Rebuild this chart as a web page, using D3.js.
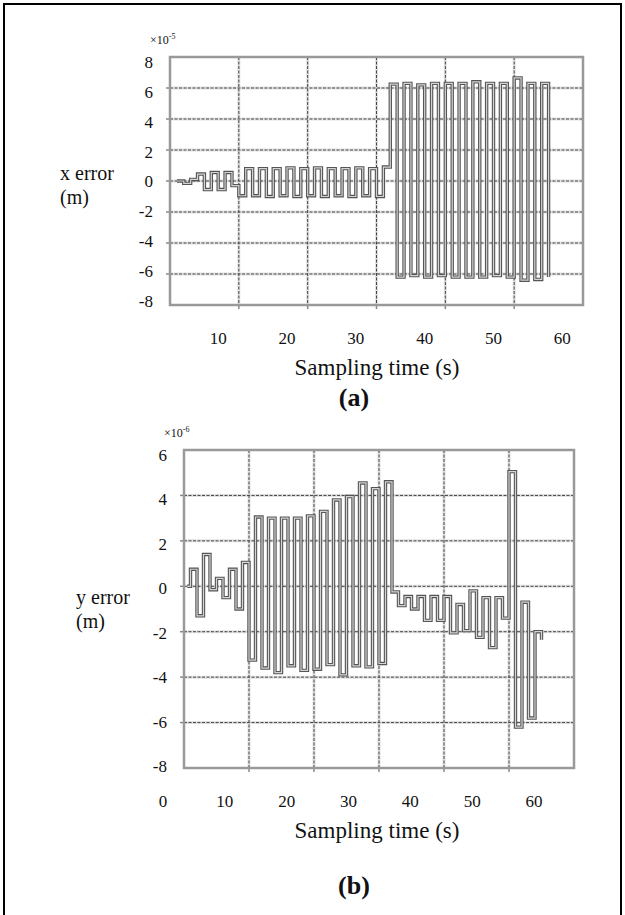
<!DOCTYPE html>
<html>
<head>
<meta charset="utf-8">
<script src="https://cdn.jsdelivr.net/npm/d3@7"></script>
<style>
body { margin: 0; background: #fff; }
</style>
</head>
<body>
<div id="chart"></div>
<script>
var width = 625;
var height = 915;
var serif = "'Liberation Serif', 'DejaVu Serif', serif";

// (a) x error, units of 1e-5 m, one value per sampling second (step)
var xErrTime = [4, 5, 6, 7, 8, 9, 10, 11, 12, 13, 14, 15, 16, 17, 18, 19, 20, 21, 22, 23,
    24, 25, 26, 27, 28, 29, 30, 31, 32, 33, 34, 35, 36, 37, 38, 39, 40, 41, 42, 43,
    44, 45, 46, 47, 48, 49, 50, 51, 52, 53, 54, 55, 56, 57, 58];
var xErrValue = [0, -0.15, 0.1, 0.45, -0.55, 0.55, -0.55, 0.55, -0.3, -0.95, 0.8, -0.95, 0.8, -1.0, 0.8, -0.95, 0.85, -1.0, 0.8, -0.95,
    0.85, -1.0, 0.8, -0.95, 0.8, -1.0, 0.85, -0.95, 0.8, -1.0, 0.9, 6.25, -6.2, 6.3, -6.1, 6.2, -6.2, 6.3, -6.1, 6.3,
    -6.2, 6.3, -6.2, 6.4, -6.2, 6.3, -6.1, 6.3, -6.2, 6.65, -6.4, 6.3, -6.35, 6.3, -6.2];

// (b) y error, units of 1e-6 m
var yErrTime = [3.5, 4, 5, 6, 7, 8, 9, 10, 11, 12, 13, 14, 15, 16, 17, 18, 19, 20, 21, 22,
    23, 24, 25, 26, 27, 28, 29, 30, 31, 32, 33, 34, 35, 36, 37, 38, 39, 40, 41, 42,
    43, 44, 45, 46, 47, 48, 49, 50, 51, 52, 53, 54, 55, 56, 57, 58];
var yErrValue = [0, 0.75, -1.3, 1.4, -0.15, 0.35, -0.5, 0.75, -1.0, 1.05, -3.25, 3.05, -3.6, 3.0, -3.8, 3.0, -3.5, 3.0, -3.7, 3.1,
    -3.65, 3.3, -3.45, 3.8, -3.9, 3.95, -3.5, 4.55, -3.55, 4.3, -3.4, 4.6, -0.25, -0.85, -0.45, -1.0, -0.45, -1.5, -0.45, -1.5,
    -0.45, -2.05, -0.8, -1.95, -0.2, -2.25, -0.5, -2.7, -0.5, -1.4, 5.05, -6.2, -0.7, -5.8, -2.0, -2.35];

var xLabelsA = [10, 20, 30, 40, 50, 60];
var yLabelsA = [8, 6, 4, 2, 0, -2, -4, -6, -8];
var xGridA = [13, 23, 33, 43, 53];

var xLabelsB = [0, 10, 20, 30, 40, 50, 60];
var yLabelsB = [6, 4, 2, 0, -2, -4, -6, -8];
var xGridB = [13, 23, 33, 43, 53];

var svg = d3.select("#chart").append("svg")
    .attr("width", width)
    .attr("height", height)
    .style("font-family", serif);

svg.append("rect")
    .attr("width", width).attr("height", height)
    .attr("fill", "#fff");

// outer frame
svg.append("rect")
    .attr("x", 4).attr("y", 4)
    .attr("width", 617).attr("height", 920)
    .attr("fill", "none")
    .attr("stroke", "#000")
    .attr("stroke-width", 2);

var panels = [
    {
        left: 170, right: 583, top: 57, bottom: 305,
        xDomain: [3, 63], yDomain: [-8, 8],
        xGrid: xGridA, xLabels: xLabelsA, yLabels: yLabelsA,
        labelRange: null, yLabelRange: [301, 62],
        times: xErrTime, values: xErrValue,
        exponent: "-5", yName: "x error", titleX: 60, titleY: 180,
        caption: "(a)"
    },
    {
        left: 184, right: 574, top: 450, bottom: 768,
        xDomain: [3, 63], yDomain: [-8, 6],
        xGrid: xGridB, xLabels: xLabelsB, yLabels: yLabelsB,
        labelRange: [163, 534], yLabelRange: [766, 455],
        times: yErrTime, values: yErrValue,
        exponent: "-6", yName: "y error", titleX: 76, titleY: 604,
        caption: "(b)"
    }
];

panels.forEach(drawPanel);

function drawPanel(p) {
    var x = d3.scaleLinear().domain(p.xDomain).range([p.left, p.right]);
    var y = d3.scaleLinear().domain(p.yDomain).range([p.bottom, p.top]);
    // tick labels are not placed exactly on the grid lines in the original
    var xl = p.labelRange ? d3.scaleLinear().domain([0, 60]).range(p.labelRange) : x;
    var yl = d3.scaleLinear().domain(p.yDomain).range(p.yLabelRange);

    var g = svg.append("g");

    var hGrid = p.yLabels.filter(function (v) { return v > p.yDomain[0] && v < p.yDomain[1]; });

    // grid: light smear under dark dotted line
    g.selectAll(".hs").data(hGrid).enter().append("line")
        .attr("x1", p.left).attr("x2", p.right)
        .attr("y1", function (d) { return y(d); }).attr("y2", function (d) { return y(d); })
        .attr("stroke", "#e2e2e2").attr("stroke-width", 3);
    g.selectAll(".vs").data(p.xGrid).enter().append("line")
        .attr("y1", p.top).attr("y2", p.bottom)
        .attr("x1", function (d) { return x(d); }).attr("x2", function (d) { return x(d); })
        .attr("stroke", "#e2e2e2").attr("stroke-width", 3);
    g.selectAll(".hg").data(hGrid).enter().append("line")
        .attr("x1", p.left).attr("x2", p.right)
        .attr("y1", function (d) { return y(d); }).attr("y2", function (d) { return y(d); })
        .attr("stroke", "#444").attr("stroke-width", 1)
        .attr("stroke-dasharray", "3,1.5");
    g.selectAll(".vg").data(p.xGrid).enter().append("line")
        .attr("y1", p.top).attr("y2", p.bottom)
        .attr("x1", function (d) { return x(d); }).attr("x2", function (d) { return x(d); })
        .attr("stroke", "#444").attr("stroke-width", 1)
        .attr("stroke-dasharray", "3,1.5");

    // small tick marks outside the frame
    g.selectAll(".yt").data(hGrid).enter().append("line")
        .attr("x1", p.left - 4).attr("x2", p.left)
        .attr("y1", function (d) { return y(d); }).attr("y2", function (d) { return y(d); })
        .attr("stroke", "#888").attr("stroke-width", 1.5);
    g.selectAll(".xt").data(p.xGrid).enter().append("line")
        .attr("y1", p.bottom).attr("y2", p.bottom + 4)
        .attr("x1", function (d) { return x(d); }).attr("x2", function (d) { return x(d); })
        .attr("stroke", "#888").attr("stroke-width", 1.5);

    // plot frame
    g.append("rect")
        .attr("x", p.left).attr("y", p.top)
        .attr("width", p.right - p.left).attr("height", p.bottom - p.top)
        .attr("fill", "none")
        .attr("stroke", "#999").attr("stroke-width", 2.5);

    // the trace: dark outline with a pale core, as in the scan
    var line = d3.line()
        .x(function (d, i) { return x(p.times[i]); })
        .y(function (d) { return y(d); })
        .curve(d3.curveStepAfter);
    g.append("path").datum(p.values)
        .attr("d", line)
        .attr("fill", "none")
        .attr("stroke", "#555").attr("stroke-width", 3.4);
    g.append("path").datum(p.values)
        .attr("d", line)
        .attr("fill", "none")
        .attr("stroke", "#d4d4d4").attr("stroke-width", 1.2);

    // y tick labels
    g.selectAll(".yl").data(p.yLabels).enter().append("text")
        .attr("x", p.left - 17)
        .attr("y", function (d) { return yl(d); })
        .attr("dy", "0.35em")
        .attr("text-anchor", "end")
        .attr("font-family", serif)
        .attr("font-size", 17)
        .attr("fill", "#111")
        .text(function (d) { return d; });

    // x tick labels
    g.selectAll(".xl").data(p.xLabels).enter().append("text")
        .attr("x", function (d) { return xl(d); })
        .attr("y", p.bottom + 33)
        .attr("dy", "0.35em")
        .attr("text-anchor", "middle")
        .attr("font-family", serif)
        .attr("font-size", 17)
        .attr("fill", "#111")
        .text(function (d) { return d; });

    // multiplier
    var m = g.append("text")
        .attr("x", p.left - 20)
        .attr("y", p.top - 13)
        .attr("font-family", serif)
        .attr("font-size", 12)
        .attr("fill", "#111");
    m.append("tspan").text("\u00d710");
    m.append("tspan").attr("dy", -5).attr("font-size", 8).text(p.exponent);

    // axis titles
    g.append("text")
        .attr("x", p.titleX).attr("y", p.titleY)
        .attr("font-family", serif)
        .attr("font-size", 20)
        .attr("fill", "#111")
        .text(p.yName);
    g.append("text")
        .attr("x", p.titleX).attr("y", p.titleY + 24)
        .attr("font-family", serif)
        .attr("font-size", 20)
        .attr("fill", "#111")
        .text("(m)");

    g.append("text")
        .attr("x", 377).attr("y", p.bottom + 70)
        .attr("text-anchor", "middle")
        .attr("font-family", serif)
        .attr("font-size", 23)
        .attr("fill", "#111")
        .text("Sampling time (s)");

    g.append("text")
        .attr("x", 354).attr("y", p.bottom + (p.caption === "(a)" ? 101 : 126))
        .attr("text-anchor", "middle")
        .attr("font-family", serif)
        .attr("font-size", 26)
        .attr("font-weight", "bold")
        .attr("fill", "#111")
        .text(p.caption);
}
</script>
</body>
</html>
